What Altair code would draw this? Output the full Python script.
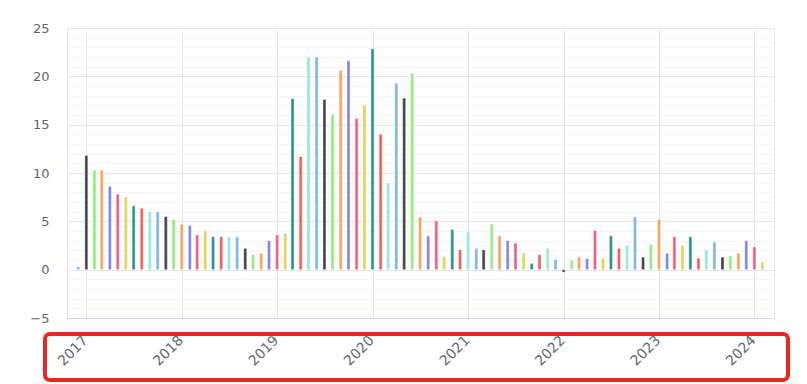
import altair as alt
import pandas as pd

# Monthly values, Dec 2016 .. Feb 2024
start_month = "2016-12-01"
values = [
    0.3,
    11.8, 10.3, 10.3, 8.6, 7.8, 7.5, 6.6, 6.35, 6.0, 6.0, 5.5, 5.2,
    4.7, 4.55, 3.6, 4.0, 3.4, 3.4, 3.4, 3.4, 2.2, 1.55, 1.7, 3.0,
    3.6, 3.75, 17.7, 11.7, 22.0, 22.0, 17.6, 16.05, 20.6, 21.6, 15.65, 17.05,
    22.85, 14.0, 8.95, 19.3, 17.75, 20.3, 5.45, 3.5, 5.05, 1.35, 4.15, 2.05,
    3.9, 2.2, 2.05, 4.7, 3.5, 3.0, 2.75, 1.7, 0.65, 1.55, 2.2, 1.05,
    -0.25, 0.95, 1.3, 1.15, 4.05, 1.15, 3.5, 2.2, 2.5, 5.45, 1.3, 2.6,
    5.2, 1.7, 3.4, 2.5, 3.4, 1.2, 2.05, 2.85, 1.3, 1.4, 1.7, 3.0,
    2.35, 0.8,
]
years = [2017, 2018, 2019, 2020, 2021, 2022, 2023, 2024]
palette = ["#7cb5ec", "#434348", "#90ed7d", "#f7a35c", "#8085e9",
           "#f15c80", "#e4d354", "#2b908f", "#f45b5b", "#91e8e1"]

months = pd.date_range(start_month, periods=len(values), freq="MS").strftime("%Y-%m-%d").tolist()
df = pd.DataFrame({"date": months, "value": values,
                   "ci": [i % len(palette) for i in range(len(values))]})

FONT = "DejaVu Sans"

x_axis = alt.Axis(
    values=[alt.DateTime(year=y, month=1, date=1, utc=True) for y in years],
    format="%Y", labelAngle=-45, labelAlign="right", labelBaseline="top",
    labelPadding=15, labelOffset=-6, labelFontSize=14, labelColor="#666666", labelFont=FONT,
    ticks=False, domainColor="#ccd6eb", gridColor="#e6e6e6", title=None,
)
y_axis = alt.Axis(
    values=list(range(-5, 26)),
    labelExpr="datum.value % 5 === 0 ? datum.label : ''",
    gridColor=alt.condition("datum.value % 5 === 0", alt.value("#e6e6e6"), alt.value("#f3f3f3")),
    labelFontSize=13, labelColor="#666666", labelFont=FONT, labelPadding=18,
    ticks=False, domain=False, title=None,
)

bars = alt.Chart(df).mark_bar(size=3, stroke="white", strokeWidth=0.4).encode(
    x=alt.X("date:T", scale=alt.Scale(type="utc", padding=0,
            domain=[alt.DateTime(year=2016, month=10, date=19, utc=True),
                    alt.DateTime(year=2024, month=3, date=16, utc=True)]),
            axis=x_axis),
    y=alt.Y("value:Q", scale=alt.Scale(domain=[-5, 25], nice=False, zero=False), axis=y_axis),
    color=alt.Color("ci:N", scale=alt.Scale(domain=list(range(len(palette))), range=palette), legend=None),
)

box = alt.Chart(pd.DataFrame({"a": [0]})).mark_rect(
    fillOpacity=0, stroke="#e8281f", strokeWidth=4, cornerRadius=5
).encode(x=alt.value(-22), x2=alt.value(721), y=alt.value(306), y2=alt.value(352))

chart = alt.layer(bars, box).properties(
    width=707, height=290,
    autosize=alt.AutoSizeParams(type="none"),
    padding={"left": 67, "top": 28, "right": 33, "bottom": 66},
    background="white",
).configure_view(stroke="#e6e6e6")

chart.save("out.html", embed_options={"renderer": "svg", "actions": False})
